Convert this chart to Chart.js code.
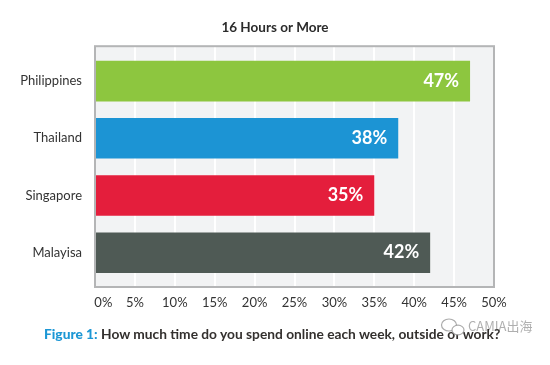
<!DOCTYPE html>
<html>
<head>
<meta charset="utf-8">
<script src="https://cdn.jsdelivr.net/npm/chart.js@4"></script>
<style>
  body { margin: 0; background: #fff; }
  #wrap { position: relative; width: 550px; height: 365px; overflow: hidden; }
  #caption { position: absolute; left: 44px; top: 325px; font: bold 13.75px Lato, sans-serif; color: #33302e; white-space: nowrap; }
  #caption b { color: #1c97d5; }
  #mark { position: absolute; left: 468px; top: 316px; font: 13px "Noto Sans CJK SC", "Noto Sans", sans-serif; color: rgba(110,110,110,.55); white-space: nowrap; }
  #icon { position: absolute; left: 440px; top: 317px; }
</style>
</head>
<body>
<div id="wrap">
  <canvas id="myChart" width="550" height="365"></canvas>
  <div id="caption"><b>Figure 1:</b> How much time do you spend online each week, outside of work?</div>
  <svg id="icon" width="26" height="20" viewBox="0 0 26 20" fill="none" stroke="rgba(150,150,150,.8)" stroke-width="1.2">
    <ellipse cx="9" cy="8" rx="7.5" ry="6"/>
    <ellipse cx="18" cy="13" rx="6" ry="4.8" fill="#fff"/>
  </svg>
  <div id="mark">CAMIA出海</div>
</div>
<script>
const categories = ['Philippines', 'Thailand', 'Singapore', 'Malayisa'];
const values = [47, 38, 35, 42];
const barColors = ['#8dc63f', '#1c94d4', '#e41e3c', '#4f5a55'];
const tickLabels = ['     0%', '5%', '10%', '15%', '20%', '25%', '30%', '35%', '40%', '45%', '50%'];
const chartTitle = '16 Hours or More';

// plot background and grey frame
const plotFrame = {
    id: 'plotFrame',
    beforeDraw(chart) {
        const { ctx, chartArea: a } = chart;
        ctx.save();
        ctx.fillStyle = '#f2f3f4';
        ctx.fillRect(a.left, a.top, a.width, a.height);
        ctx.restore();
    },
    afterDatasetsDraw(chart) {
        const { ctx, chartArea: a } = chart;
        ctx.save();
        ctx.strokeStyle = '#b4b5b6';
        ctx.lineWidth = 2;
        ctx.strokeRect(a.left, a.top, a.width, a.height);
        ctx.restore();
    }
};

// white value labels at the end of each bar
const barLabels = {
    id: 'barLabels',
    afterDatasetsDraw(chart) {
        const { ctx } = chart;
        ctx.save();
        ctx.fillStyle = '#fff';
        ctx.font = 'bold 18px Lato, sans-serif';
        ctx.textAlign = 'right';
        ctx.textBaseline = 'middle';
        chart.getDatasetMeta(0).data.forEach((bar, i) => {
            ctx.fillText(values[i] + '%', bar.x - 11, bar.y);
        });
        ctx.restore();
    }
};

const cht1 = document.getElementById('myChart').getContext('2d');
const myChart = new Chart(cht1, {
    type: 'bar',
    data: {
        datasets: [{
            data: categories.map((c, i) => ({ x: values[i], y: i })),
            backgroundColor: barColors,
            borderWidth: 0,
            barPercentage: 0.71,
            categoryPercentage: 1
        }]
    },
    options: {
        indexAxis: 'y',
        responsive: false,
        animation: false,
        layout: { padding: 0 },
        plugins: {
            legend: { display: false },
            tooltip: { enabled: false },
            title: {
                display: true,
                text: chartTitle,
                color: '#2b2b2b',
                font: { family: 'Lato, sans-serif', size: 13.5, weight: 'bold' },
                padding: { top: 20, bottom: 10 }
            }
        },
        scales: {
            x: {
                min: 0,
                max: 50,
                grid: { color: '#ffffff', lineWidth: 2, drawTicks: false },
                border: { display: false },
                afterFit(scale) { scale.height = 78; },
                afterTickToLabelConversion(scale) {
                    scale.ticks.forEach((t, i) => { t.label = tickLabels[i]; });
                },
                ticks: {
                    stepSize: 5,
                    maxRotation: 0,
                    autoSkip: false,
                    padding: 8,
                    color: '#333',
                    font: { family: 'Lato, sans-serif', size: 13 }
                }
            },
            y: {
                type: 'linear',
                reverse: true,
                offset: false,
                min: -0.61,
                max: 3.6,
                grid: { display: false, offset: false },
                border: { display: false },
                afterFit(scale) { scale.width = 95; },
                afterBuildTicks(scale) {
                    scale.ticks = categories.map((c, i) => ({ value: i }));
                },
                ticks: {
                    autoSkip: false,
                    padding: 5,
                    color: '#333',
                    font: { family: 'Lato, sans-serif', size: 13 },
                    callback: (v) => categories[v]
                }
            },
            // empty axis, only keeps the right margin while the title stays centred
            yRight: {
                axis: 'y',
                type: 'linear',
                position: 'right',
                grid: { display: false },
                border: { display: false },
                ticks: { display: false },
                afterFit(scale) { scale.width = 56; }
            }
        }
    },
    plugins: [plotFrame, barLabels]
});
</script>
</body>
</html>
